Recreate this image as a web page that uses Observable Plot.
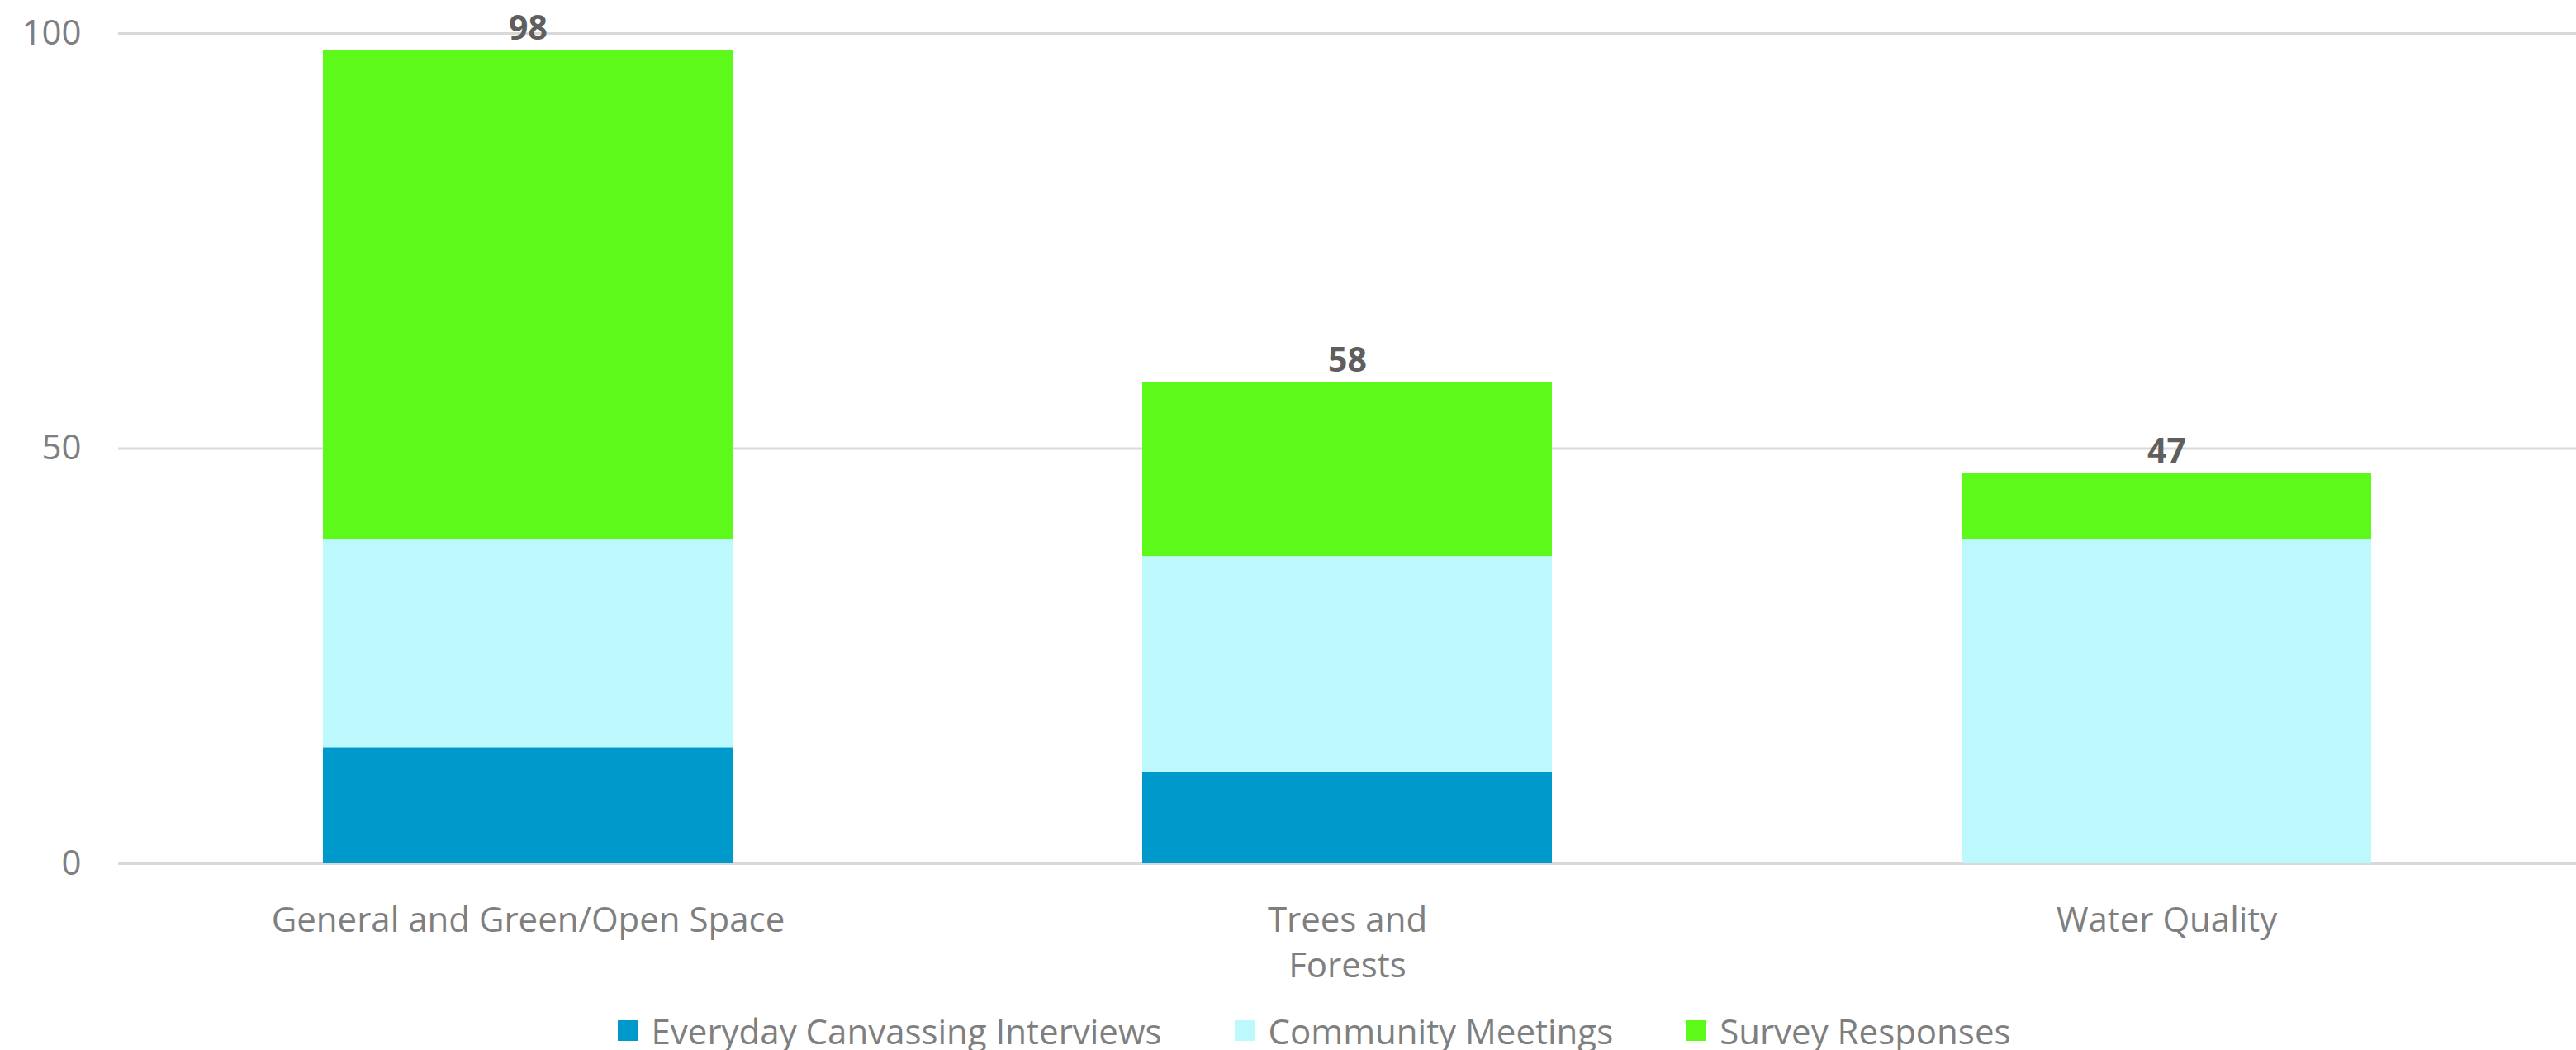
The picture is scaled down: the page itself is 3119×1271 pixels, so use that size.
<!DOCTYPE html>
<html>
<head>
<meta charset="utf-8">
<script src="https://cdn.jsdelivr.net/npm/d3@7"></script>
<script src="https://cdn.jsdelivr.net/npm/@observablehq/plot@0.6"></script>
<style>
  html, body { margin: 0; padding: 0; background: #fff; overflow: hidden; }
  #chart svg { display: block; }
  .legend { display: flex; justify-content: center; align-items: center; height: 94px; padding-left: 63px;
            font-family: "Open Sans", sans-serif; font-size: 42px; color: #7f7f7f; }
  .legend .item { display: flex; align-items: center; margin: 0 44px; }
  .legend .sw { width: 25px; height: 25px; margin-right: 16px; }
</style>
</head>
<body>
<div id="chart"></div>
<div class="legend" id="legend"></div>
<script>
const categories = ["General and Green/Open Space", "Trees and Forests", "Water Quality"];
const tickLabels = ["General and Green/Open Space", "Trees and\nForests", "Water Quality"];
const seriesNames = ["Everyday Canvassing Interviews", "Community Meetings", "Survey Responses"];
const canvassing = [14, 11, 0];
const meetings = [25, 26, 39];
const survey = [59, 21, 8];
const seriesColors = ["#0099CC", "#BDF9FC", "#5DF91A"];
const yTicks = [0, 50, 100];

const seriesValues = [canvassing, meetings, survey];
const data = [];
seriesNames.forEach((s, si) => {
  categories.forEach((c, ci) => {
    data.push({category: c, series: s, value: seriesValues[si][ci]});
  });
});

const chart = Plot.plot({
  width: 3119,
  height: 1200,
  marginLeft: 143,
  marginRight: 0,
  marginTop: 40,
  marginBottom: 155,
  style: {fontFamily: "'Open Sans', sans-serif", background: "#fff"},
  x: {domain: categories, paddingInner: 0.5, paddingOuter: 0.25},
  y: {domain: [0, 100]},
  color: {domain: seriesNames, range: seriesColors},
  marks: [
    Plot.gridY(yTicks, {stroke: "#d9d9d9", strokeWidth: 3, strokeOpacity: 1}),
    Plot.axisY(yTicks, {tickSize: 0, tickPadding: 45, fontSize: 42, fill: "#7f7f7f", label: null}),
    Plot.axisX({tickSize: 0, tickPadding: 44, fontSize: 42, lineHeight: 1.3, fill: "#7f7f7f", label: null,
                tickFormat: d => tickLabels[categories.indexOf(d)]}),
    Plot.barY(data.filter(d => d.value > 0), {x: "category", y: "value", fill: "series", order: seriesNames}),
    Plot.text(data, Plot.groupX({y: "sum", text: "sum"}, {x: "category", y: "value", text: "value", dy: -26,
                fontSize: 41, fontWeight: "bold", fill: "#5f5f5f"}))
  ]
});
document.getElementById("chart").appendChild(chart);

const legend = document.getElementById("legend");
seriesNames.forEach((s, i) => {
  const it = document.createElement("div");
  it.className = "item";
  const sw = document.createElement("span");
  sw.className = "sw";
  sw.style.background = seriesColors[i];
  const t = document.createElement("span");
  t.textContent = s;
  it.appendChild(sw);
  it.appendChild(t);
  legend.appendChild(it);
});
</script>
</body>
</html>
